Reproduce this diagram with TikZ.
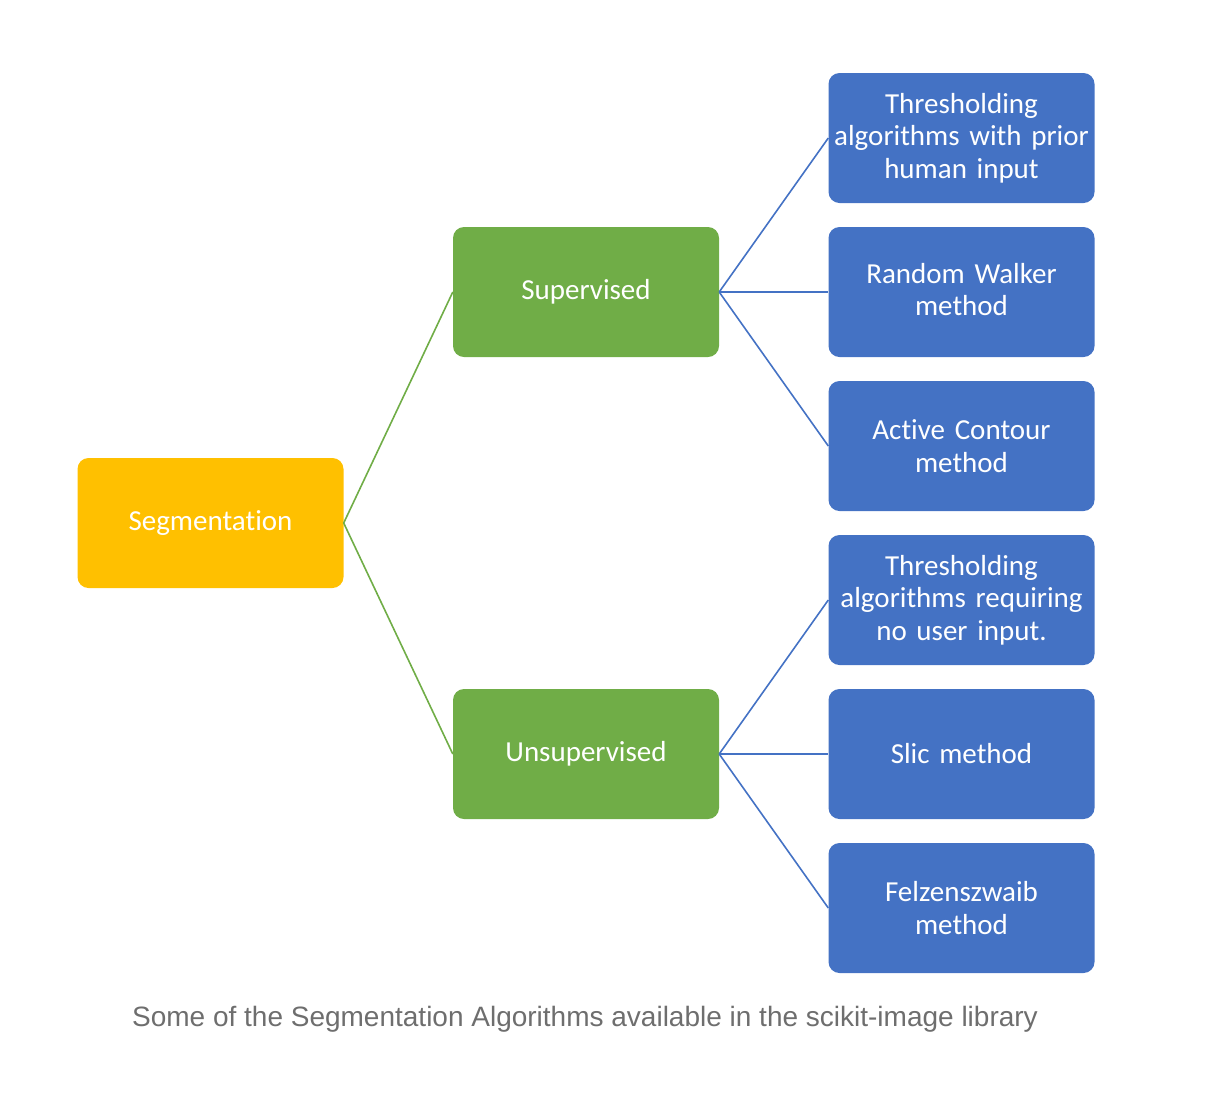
\documentclass[tikz,border=0pt]{standalone}
\usepackage{fontspec}
\setmainfont[Ligatures=NoCommon]{Carlito}
\newfontfamily\capfont{Liberation Sans}
\definecolor{segyellow}{HTML}{FFC000}
\definecolor{supgreen}{HTML}{70AD47}
\definecolor{algblue}{HTML}{4472C4}
\definecolor{capgray}{HTML}{6E6E6E}
\begin{document}
\begin{tikzpicture}[x=1pt,y=-1pt,
  box/.style={rounded corners=11pt,minimum width=266pt,minimum height=130pt,
    text width=262pt,align=center,inner sep=0pt,text=white,
    font=\fontsize{29}{32.5}\selectfont},
  segbox/.style={box,fill=segyellow},
  grbox/.style={box,fill=supgreen},
  blbox/.style={box,fill=algblue},
  grline/.style={draw=supgreen,line width=1.6pt},
  blline/.style={draw=algblue,line width=1.6pt}]
\useasboundingbox (0,0) rectangle (1226,1096);
\node[segbox] (seg) at (210.5,523) {Segmentation};
\node[grbox] (sup) at (586,292) {Supervised};
\node[grbox] (uns) at (586,754) {Unsupervised};
\node[blbox] (b1) at (961.5,138) {Thresholding\\algorithms with prior\\human input};
\node[blbox] (b2) at (961.5,292) {Random Walker\\method\vphantom{g}\\[32.5pt]};
\node[blbox] (b3) at (961.5,446) {Active Contour\\method\\[32.5pt]};
\node[blbox] (b4) at (961.5,600) {Thresholding\\algorithms requiring\\no user input.};
\node[blbox] (b5) at (961.5,754) {Slic method};
\node[blbox] (b6) at (961.5,908) {Felzenszwaib\\method\\[32.5pt]};
\draw[grline] (seg.east) -- (sup.west);
\draw[grline] (seg.east) -- (uns.west);
\foreach \b in {b1,b2,b3} \draw[blline] (sup.east) -- (\b.west);
\foreach \b in {b4,b5,b6} \draw[blline] (uns.east) -- (\b.west);
\node[font=\capfont\fontsize{28}{32}\selectfont,text=capgray,inner sep=0pt] (cap) at (585,1019) {Some of the Segmentation Algorithms available in the scikit-image library};
\end{tikzpicture}
\end{document}
